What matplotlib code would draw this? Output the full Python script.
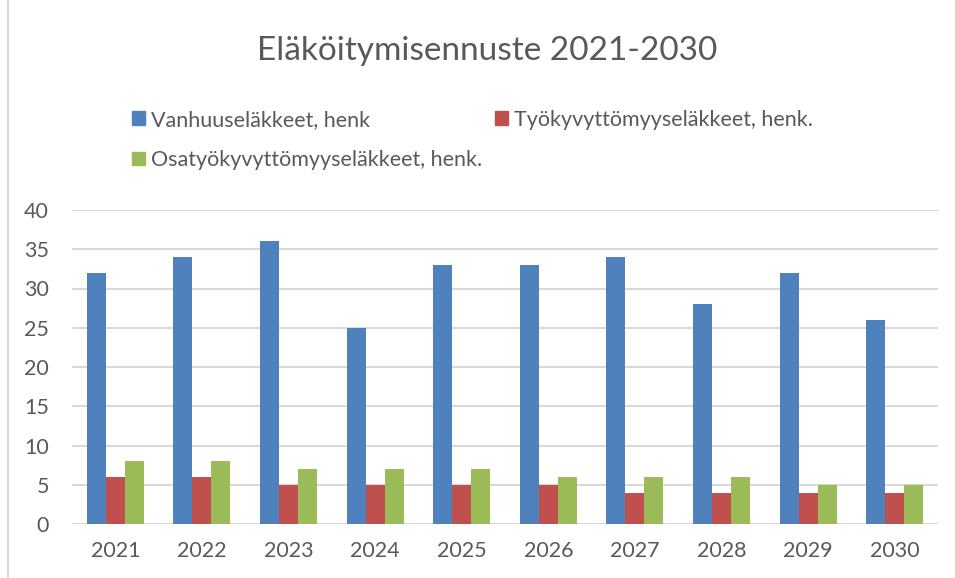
import matplotlib
matplotlib.use("Agg")
import matplotlib.pyplot as plt
import numpy as np
from matplotlib.patches import Patch, Rectangle

years = ["2021", "2022", "2023", "2024", "2025", "2026", "2027", "2028", "2029", "2030"]
vanhuus = [32, 34, 36, 25, 33, 33, 34, 28, 32, 26]
tyokyvyttomyys = [6, 6, 5, 5, 5, 5, 4, 4, 4, 4]
osatyokyvyttomyys = [8, 8, 7, 7, 7, 6, 6, 6, 5, 5]
series_names = ["Vanhuuseläkkeet, henk", "Työkyvyttömyyseläkkeet, henk.", "Osatyökyvyttömyyseläkkeet, henk."]
title = "Eläköitymisennuste 2021-2030"

colors = ["#4F81BD", "#C0504D", "#9BBB59"]
txt = "#595959"
plt.rcParams['font.family'] = ['Lato', 'DejaVu Sans']

W, H = 955, 578
fig = plt.figure(figsize=(W / 100, H / 100), dpi=100)
ax = fig.add_axes([72 / W, (H - 524) / H, (938 - 72) / W, (524 - 210) / H])

x = np.arange(len(years))
bw = 0.22
for i, (vals, c) in enumerate(zip([vanhuus, tyokyvyttomyys, osatyokyvyttomyys], colors)):
    ax.bar(x + (i - 1) * bw, vals, width=bw, color=c, zorder=3, linewidth=0)

ax.set_xlim(-0.5, len(years) - 0.5)
ax.set_ylim(0, 40)
ax.set_yticks(range(0, 41, 5))
ax.set_xticks(x)
ax.set_xticklabels(years)
for s in ax.spines.values():
    s.set_visible(False)
ax.grid(axis='y', color='#D9D9D9', linewidth=1.5, zorder=0)
ax.tick_params(axis='both', length=0, labelsize=15.5, colors=txt)
ax.tick_params(axis='x', pad=12)
ax.tick_params(axis='y', pad=16.5)

fig.text(487 / W, 1 - 51 / H, title, ha='center', va='center', fontsize=24, color=txt)

handles = [Patch(color=colors[0], label=series_names[0]),
           Patch(color=colors[2], label=series_names[2]),
           Patch(color=colors[1], label=series_names[1])]
leg = fig.legend(handles=handles, ncol=2, loc='upper left', bbox_to_anchor=(123 / W, 1 - 101 / H),
                 frameon=False, fontsize=15.5, labelcolor=txt, handlelength=0.62, handleheight=0.62,
                 handletextpad=0.3, columnspacing=0.55, labelspacing=0.95, borderaxespad=0)

# chart frame border (left and top visible)
fig.add_artist(Rectangle((8 / W, -0.05), 2, 2, transform=fig.transFigure, fill=False,
                         edgecolor='#D9D9D9', linewidth=1.5))

fig.savefig("out.png", dpi=100)
